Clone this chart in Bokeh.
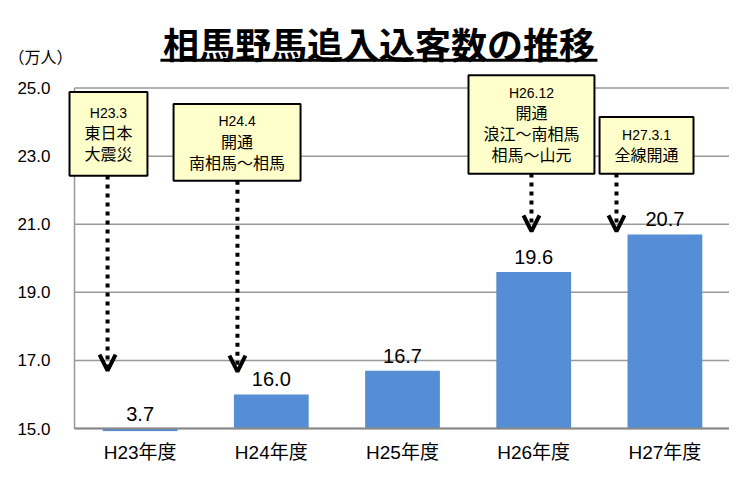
from bokeh.plotting import figure
from bokeh.models import FixedTicker, Arrow, OpenHead, Label, Range1d, ColumnDataSource, LinearAxis
from bokeh.core.properties import value
from bokeh.embed import file_html
from bokeh.resources import INLINE

# ---- data ----
categories = ["H23年度", "H24年度", "H25年度", "H26年度", "H27年度"]
visitors = [3.7, 16.0, 16.7, 19.6, 20.7]          # 万人
y_ticks = [15.0, 17.0, 19.0, 21.0, 23.0, 25.0]
title_text = "相馬野馬追入込客数の推移"
unit_text = "（万人）"
callout_texts = [
    ["H23.3", "東日本", "大震災"],
    ["H24.4", "開通", "南相馬～相馬"],
    ["H26.12", "開通", "浪江～南相馬", "相馬～山元"],
    ["H27.3.1", "全線開通"],
]

# ---- layout (data-space positions of annotations) ----
XU, YU = 131.2, 34.2           # px per unit
Y_AXIS_MIN = 15.0
Y_SLIVER = 14.92
UNIT_Y = 25.94                 # height of the unit caption
callout_boxes = [               # left, right, top, bottom
    (-0.538, 0.056, 24.883, 22.427),
    (0.255, 1.223, 24.532, 22.281),
    (2.503, 3.463, 25.380, 22.485),
    (3.502, 4.218, 24.152, 22.485),
]
arrows = [                      # x, y_start, y_end
    (-0.248, 22.43, 16.70),
    (0.742, 22.28, 16.67),
    (2.983, 22.49, 20.79),
    (3.631, 22.49, 20.79),
]

LATIN = value("Liberation Sans, Noto Sans CJK JP")
CJK = "Noto Sans CJK JP"

W, H = 729, 465
FRAME_BOTTOM = 433
FRAME_LEFT = 66
y0 = Y_AXIS_MIN - 3 / YU
x0 = -0.5 - (74 - FRAME_LEFT) / XU
p = figure(width=W, height=H, output_backend="svg", toolbar_location=None,
           x_range=Range1d(x0, x0 + (W - FRAME_LEFT) / XU),
           y_range=Range1d(y0, y0 + FRAME_BOTTOM / YU),
           min_border_left=FRAME_LEFT, min_border_right=0, min_border_top=0,
           min_border_bottom=H - FRAME_BOTTOM)
p.outline_line_color = None
p.background_fill_color = "white"

# y axis: numeric ticks
p.yaxis.ticker = FixedTicker(ticks=y_ticks)
p.yaxis.major_label_overrides = {t: f"{t:.1f}" for t in y_ticks}
p.yaxis.axis_line_color = None
p.yaxis.major_tick_line_color = None
p.yaxis.minor_tick_line_color = None
p.yaxis.major_tick_out = 0
p.yaxis.major_label_standoff = 16
p.yaxis.major_label_text_font = "Liberation Sans"
p.yaxis.major_label_text_font_size = "17px"
p.yaxis.major_label_text_color = "black"

# second (outer) left axis carrying only the unit caption
unit_axis = LinearAxis(ticker=FixedTicker(ticks=[UNIT_Y]),
                       major_label_overrides={UNIT_Y: unit_text},
                       axis_line_color=None, major_tick_line_color=None,
                       minor_tick_line_color=None, major_tick_out=0, major_tick_in=0,
                       major_label_standoff=-58,
                       major_label_text_font=CJK, major_label_text_font_size="16px",
                       major_label_text_color="black")
p.add_layout(unit_axis, "left")

idx = list(range(len(categories)))
p.xaxis.ticker = FixedTicker(ticks=idx)
p.xaxis.major_label_overrides = {i: c for i, c in zip(idx, categories)}
p.xaxis.axis_line_color = None
p.xaxis.major_tick_line_color = None
p.xaxis.minor_tick_line_color = None
p.xaxis.major_tick_out = 0
p.xaxis.major_label_standoff = 10
p.xaxis.major_label_text_font = "Liberation Sans, Noto Sans CJK JP"
p.xaxis.major_label_text_font_size = "19px"
p.xaxis.major_label_text_color = "black"

# horizontal gridlines across the plot area only
p.xgrid.grid_line_color = None
p.ygrid.grid_line_color = None
n_t = len(y_ticks)
p.segment(x0=[-0.5] * n_t, x1=[4.5] * n_t, y0=y_ticks, y1=y_ticks, line_color="#999999", line_width=1.5)

# bars (values below the axis minimum show as a thin sliver under the axis)
bar_tops = [v if v >= Y_AXIS_MIN else Y_AXIS_MIN for v in visitors]
bar_bots = [Y_AXIS_MIN if v >= Y_AXIS_MIN else Y_SLIVER for v in visitors]
p.vbar(x=idx, top=bar_tops, bottom=bar_bots, width=0.57, fill_color="#558ED5", line_color=None)

# axis lines
p.segment(x0=[-0.5], x1=[-0.5], y0=[y_ticks[0]], y1=[y_ticks[-1]], line_color="#999999", line_width=1.5)
p.segment(x0=[-0.5], x1=[4.5], y0=[Y_AXIS_MIN], y1=[Y_AXIS_MIN], line_color="#888888", line_width=2)

# value labels
p.text(x=idx, y=bar_tops, text=[f"{v:.1f}" for v in visitors], y_offset=-15,
       text_align="center", text_baseline="middle", text_font=value("Liberation Sans"),
       text_font_size="20px", text_color="black")

# arrows
for (ax, ys, ye) in arrows:
    p.add_layout(Arrow(end=OpenHead(size=16, line_width=4, line_color="black"),
                       x_start=ax, y_start=ys, x_end=ax, y_end=ye,
                       line_width=4, line_dash="4 5", line_color="black"))

# callout boxes
p.quad(left=[b[0] for b in callout_boxes], right=[b[1] for b in callout_boxes],
       top=[b[2] for b in callout_boxes], bottom=[b[3] for b in callout_boxes],
       fill_color="#FFFFCC", line_color="black", line_width=2)
LINE_H = 21 / YU
tx, ty, tt, ts = [], [], [], []
for box, lines in zip(callout_boxes, callout_texts):
    cx = (box[0] + box[1]) / 2
    cy = (box[2] + box[3]) / 2
    n = len(lines)
    for i, line in enumerate(lines):
        tx.append(cx)
        ty.append(cy + ((n - 1) / 2 - i) * LINE_H)
        tt.append(line)
        ts.append("14px" if line.isascii() else "16px")
src = ColumnDataSource(dict(x=tx, y=ty, text=tt, size=ts))
p.text(x="x", y="y", text="text", text_font_size="size", source=src,
       text_align="center", text_baseline="middle", text_font=LATIN, text_color="black")

# title + underline
p.add_layout(Label(x=1.82, y=26.32, text=title_text, text_align="center", text_baseline="middle",
                   text_font=CJK, text_font_size="36px", text_font_style="bold", text_color="black"))
p.segment(x0=[0.155], x1=[3.486], y0=[25.82], y1=[25.82], line_color="black", line_width=3)

open("out.html", "w").write(file_html(p, INLINE))
